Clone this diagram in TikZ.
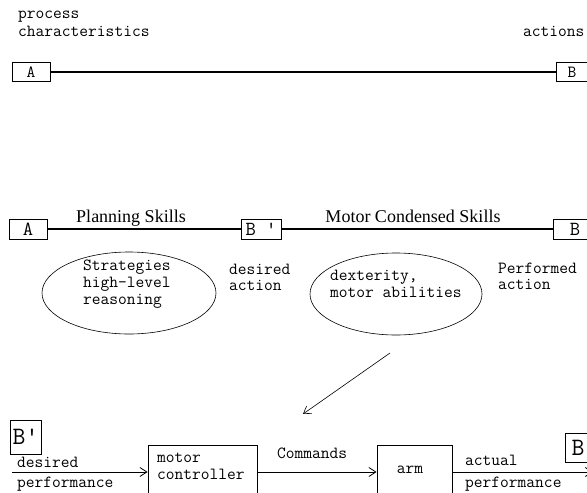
\documentclass[tikz,border=0pt]{standalone}
\usepackage{fontspec}
\setmainfont{Liberation Serif}
\usetikzlibrary{arrows.meta,shapes.geometric}
\tikzset{
	box/.style={draw,line width=0.8pt,inner sep=0pt,font=\ttfamily\fontsize{17}{19}\selectfont},
	unit/.style={draw,line width=0.8pt,inner sep=0pt},
	lbl/.style={inner sep=0pt,anchor=base west,font=\ttfamily\fontsize{17}{17}\selectfont},
	skill/.style={inner sep=0pt,anchor=base,font=\fontsize{18}{20}\selectfont},
	blob/.style={draw,ellipse,line width=0.6pt,inner sep=0pt},
	heavy/.style={line width=2.6pt},
	barb/.style={line width=0.8pt,-{Straight Barb[length=7pt,width=9pt]}}
}

\begin{document}
\begin{tikzpicture}[x=1pt,y=-1pt]
	\useasboundingbox (0,0) rectangle (587,493);
	\clip (0,0) rectangle (587,493);
	% process -> actions
	\node at (18,36) (proc) [lbl,align=left,font=\ttfamily\fontsize{17}{18}\selectfont] {process\\characteristics};
	\node at (523,36) (act) [lbl] {actions};
	\node at (31,72) (A) [box,minimum width=38pt,minimum height=19pt] {A};
	\node at (572,72) (B) [box,minimum width=31pt,minimum height=19pt] {B};
	\draw [heavy] (A) -- (B);
	% planning / motor skills
	\node at (28,229) (A2) [box,minimum width=38pt,minimum height=20pt,font=\ttfamily\fontsize{20}{22}\selectfont] {A};
	\node at (261,229) (Bp) [box,minimum width=40pt,minimum height=20pt,font=\ttfamily\fontsize{20}{22}\selectfont] {B '};
	\node at (575,229) (B2) [box,minimum width=44pt,minimum height=20pt,font=\ttfamily\fontsize{20}{22}\selectfont] {B};
	\draw [heavy] (A2) -- (Bp);
	\draw [heavy] (Bp) -- (B2);
	\node at (131,222) (plan) [skill] {Planning Skills};
	\node at (413,222) (cond) [skill] {Motor Condensed Skills};
	\node at (129,293) (strat) [blob,minimum width=174pt,minimum height=82pt] {};
	\node at (83,304) (stratT) [lbl,align=left] {Strategies\\high-level\\reasoning};
	\node at (229,290) (want) [lbl,align=left,font=\ttfamily\fontsize{17}{16}\selectfont] {desired\\action};
	\node at (396,294) (dext) [blob,minimum width=172pt,minimum height=82pt] {};
	\node at (330,297) (dextT) [lbl,align=left] {dexterity,\\motor abilities};
	\node at (498,289) (done) [lbl,align=left,font=\ttfamily\fontsize{17}{16}\selectfont] {Performed\\action};
	\coordinate (zoomA) at (390,353);
	\coordinate (zoomB) at (303,414);
	\draw [barb,line width=0.6pt] (zoomA) -- (zoomB);
	% control loop
	\node at (25.5,437) (Bq) [box,minimum width=31pt,minimum height=34pt,font=\ttfamily\fontsize{25}{27}\selectfont] {B'};
	\node at (202.5,485) (ctrl) [unit,minimum width=109pt,minimum height=80pt] {};
	\node at (157,479) (ctrlT) [lbl,align=left] {motor\\controller};
	\node at (414.5,485) (arm) [unit,minimum width=75pt,minimum height=80pt] {};
	\node at (410,473) (armT) [lbl,anchor=base] {arm};
	\node at (578,447.5) (B3) [box,minimum width=26pt,minimum height=29pt,font=\ttfamily\fontsize{25}{27}\selectfont] {B};
	\coordinate (inL) at (12,472);
	\coordinate (outR) at (593,472);
	\draw [barb] (inL) -- (inL -| ctrl.west);
	\draw [barb] (ctrl.east |- inL) -- (arm.west |- inL);
	\draw [barb] (arm.east |- inL) -- (outR);
	\node at (17,467) (des) [lbl] {desired};
	\node at (17,487) (perf) [lbl] {performance};
	\node at (277,458) (cmd) [lbl] {Commands};
	\node at (465,465) (real) [lbl] {actual};
	\node at (465,487) (perf2) [lbl] {performance};
\end{tikzpicture}
\end{document}
